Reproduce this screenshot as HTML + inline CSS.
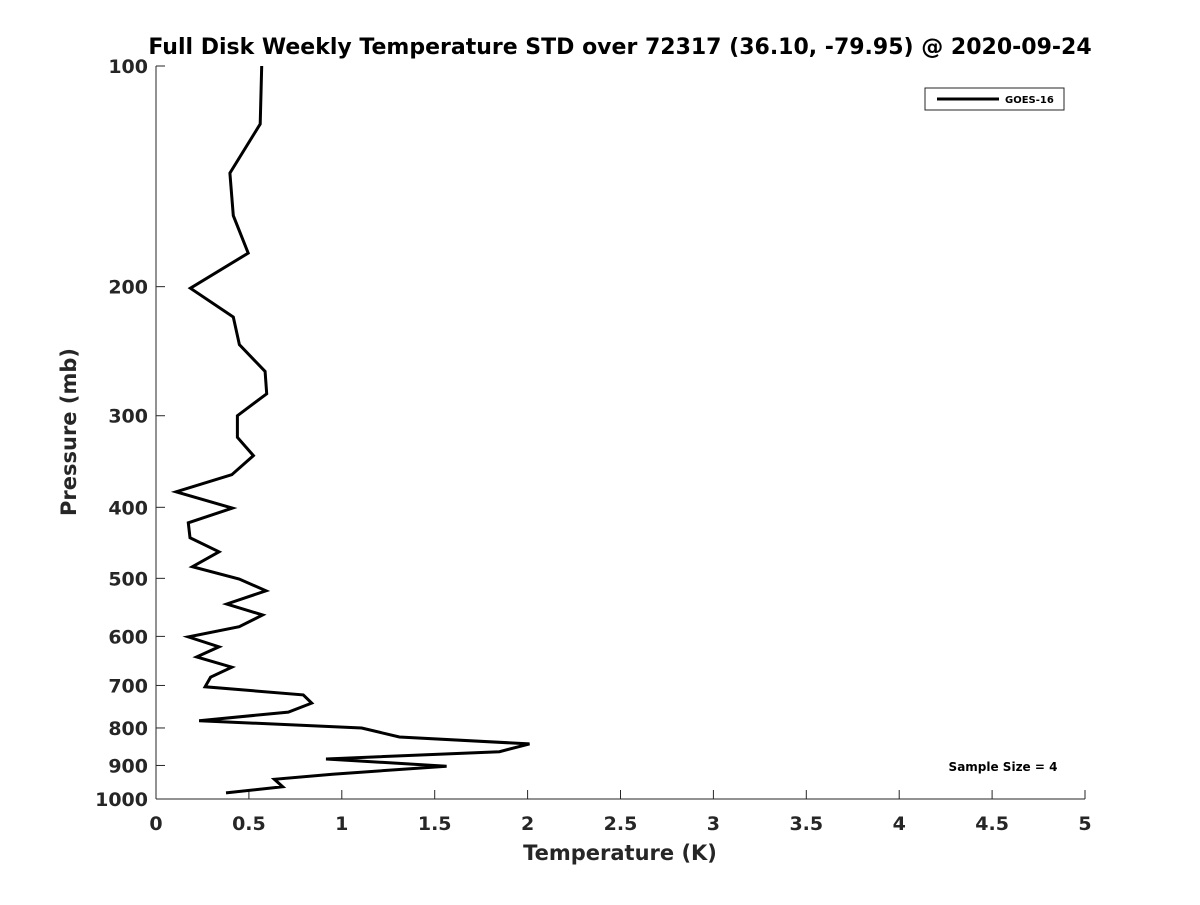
<!DOCTYPE html>
<html><head><meta charset="utf-8"><style>
body{margin:0;background:#fff;}
svg text{font-family:"DejaVu Sans","Liberation Sans",sans-serif;font-weight:bold;fill:#262626;}
</style></head><body>
<svg id="chart" width="1200" height="900" xmlns="http://www.w3.org/2000/svg">
<rect width="1200" height="900" fill="#fff"/>
<text x="620" y="54" text-anchor="middle" font-size="22" style="fill:#000">Full Disk Weekly Temperature STD over 72317 (36.10, -79.95) @ 2020-09-24</text>
<g id="axes"></g>
<path id="line" fill="none" stroke="#000" stroke-width="3" stroke-linejoin="miter"/>
<text x="620" y="860" text-anchor="middle" font-size="21">Temperature (K)</text>
<text transform="translate(76,432) rotate(-90)" text-anchor="middle" font-size="21">Pressure (mb)</text>
<g>
<rect x="925" y="88" width="139" height="22" fill="#fff" stroke="#262626" stroke-width="1"/>
<line x1="937" y1="99" x2="999" y2="99" stroke="#000" stroke-width="3"/>
<text x="1005" y="103" font-size="10" style="fill:#000">GOES-16</text>
</g>
<text x="1003" y="771" text-anchor="middle" font-size="12" style="fill:#000">Sample Size = 4</text>
</svg>
<script>
const pressure=[100,120,140,160,180,201,220,240,261,280,300,321,340,361,381,401,420,440,460,482,501,520,542,561,582,601,620,640,661,682,703,721,740,761,782,800,823,841,862,882,902,925,940,962,981];
const temperature=[0.569,0.561,0.398,0.416,0.496,0.185,0.416,0.449,0.587,0.596,0.438,0.438,0.524,0.408,0.108,0.411,0.174,0.183,0.339,0.196,0.448,0.592,0.381,0.574,0.448,0.174,0.339,0.219,0.408,0.294,0.264,0.793,0.838,0.712,0.232,1.107,1.31,2.01,1.848,0.915,1.564,0.95,0.637,0.682,0.377];
const xTicks=[0,0.5,1,1.5,2,2.5,3,3.5,4,4.5,5];
const xTickLabels=["0","0.5","1","1.5","2","2.5","3","3.5","4","4.5","5"];
const yTicks=[100,200,300,400,500,600,700,800,900,1000];
const yTickLabels=["100","200","300","400","500","600","700","800","900","1000"];
const X0=156,X1=1085,Y0=66,Y1=799;
function xs(v){return X0+(v/5)*(X1-X0);}
function ys(p){return Y0+Math.log10(p/100)*(Y1-Y0);}
const NS="http://www.w3.org/2000/svg";
const ax=document.getElementById('axes');
function mk(t,a){const e=document.createElementNS(NS,t);for(const k in a)e.setAttribute(k,a[k]);return e;}
let l=mk('line',{x1:X0,y1:Y0,x2:X0,y2:Y1,stroke:'#262626','stroke-width':1});


ax.appendChild(l);
l=mk('line',{x1:X0,y1:Y1,x2:X1,y2:Y1,stroke:'#262626','stroke-width':1});


ax.appendChild(l);
xTicks.forEach((v,i)=>{
 const x=xs(v);
 const t=mk('line',{x1:x,y1:Y1,x2:x,y2:Y1-9,stroke:'#262626','stroke-width':1});
 
 
 ax.appendChild(t);
 const tx=mk('text',{x:x,y:Y1+31,'text-anchor':'middle','font-size':19});
 
 
 tx.textContent=xTickLabels[i];ax.appendChild(tx);
});
yTicks.forEach((p,i)=>{
 const y=ys(p);
 const t=mk('line',{x1:X0,y1:y,x2:X0+9,y2:y,stroke:'#262626','stroke-width':1});
 
 
 ax.appendChild(t);
 const tx=mk('text',{x:X0-8,y:y+7,'text-anchor':'end','font-size':19});
 
 
 tx.textContent=yTickLabels[i];ax.appendChild(tx);
});
document.getElementById('line').setAttribute('d',pressure.map((p,i)=>(i?'L':'M')+xs(temperature[i]).toFixed(1)+','+ys(p).toFixed(1)).join(''));
</script>
</body></html>
